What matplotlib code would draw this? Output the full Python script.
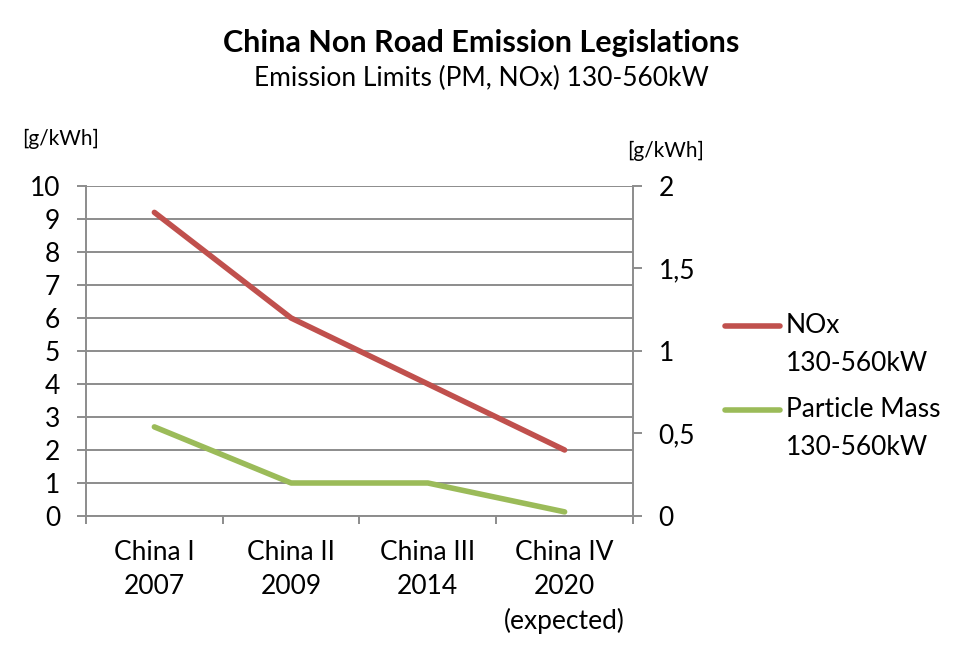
import numpy as np
import matplotlib.pyplot as plt
from matplotlib.lines import Line2D
from matplotlib.ticker import FuncFormatter, MultipleLocator

plt.rcParams['font.family'] = ['Lato', 'DejaVu Sans']

stufen = ['China I\n2007', 'China II\n2009', 'China III\n2014', 'China IV\n2020\n(expected)']
nox = [9.2, 6.0, 4.0, 2.0]          # linke Achse
pm = [0.54, 0.2, 0.2, 0.025]        # rechte Achse

rot = '#C0504D'
gruen = '#9BBB59'
grau = '#8c8c8c'

fig = plt.figure(figsize=(9.63, 6.69), dpi=100)
ax = fig.add_axes([0.0893, 0.2287, 0.568, 0.4933])
ax2 = ax.twinx()

x = np.arange(len(stufen))
ax.plot(x, nox, color=rot, lw=4, solid_capstyle='round')
ax2.plot(x, pm, color=gruen, lw=4, solid_capstyle='round')

ax.set_xlim(-0.5, 3.5)
ax.set_ylim(0, 10)
ax2.set_ylim(0, 2)
ax.yaxis.set_major_locator(MultipleLocator(1))
ax2.yaxis.set_major_locator(MultipleLocator(0.5))
ax2.yaxis.set_major_formatter(FuncFormatter(lambda v, p: f'{v:g}'.replace('.', ',')))

ax.grid(axis='y', color=grau, lw=1.4)
ax.set_axisbelow(True)

# Kategorie-Ticks an den Grenzen, Labels in der Mitte
ax.set_xticks(np.arange(-0.5, 4.0, 1.0))
ax.set_xticklabels([])
ax.set_xticks(x, minor=True)
ax.set_xticklabels(stufen, minor=True, fontsize=19, linespacing=1.45)
ax.tick_params(axis='x', which='minor', length=0, pad=17)
ax.tick_params(axis='x', which='major', length=6, width=1.4, color=grau, direction='out')
ax.tick_params(axis='y', length=6.5, width=1.4, color=grau, labelsize=19, pad=12)
ax2.tick_params(axis='y', length=6.5, width=1.4, color=grau, labelsize=19, pad=12)

for a in (ax, ax2):
    for s in a.spines.values():
        s.set_visible(False)
ax.spines['left'].set_visible(True)
ax.spines['bottom'].set_visible(True)
ax2.spines['right'].set_visible(True)
for s in (ax.spines['left'], ax.spines['bottom'], ax2.spines['right']):
    s.set_color(grau)
    s.set_linewidth(1.4)

fig.text(0.5, 0.935, 'China Non Road Emission Legislations', ha='center', va='center',
         fontsize=22, fontweight='bold')
fig.text(0.5, 0.882, 'Emission Limits (PM, NOx) 130-560kW', ha='center', va='center', fontsize=19)
fig.text(0.023, 0.793, '[g/kWh]', ha='left', va='center', fontsize=15)
fig.text(0.651, 0.775, '[g/kWh]', ha='left', va='center', fontsize=15)

# Legende wie in Excel: Linie auf Hoehe der ersten Textzeile
eintraege = [('NOx\n130-560kW', rot, 0.513), ('Particle Mass\n130-560kW', gruen, 0.387)]
for text, farbe, y in eintraege:
    fig.add_artist(Line2D([0.753, 0.810], [y, y], transform=fig.transFigure, color=farbe,
                          lw=4, solid_capstyle='round'))
    fig.text(0.816, y + 0.019, text, ha='left', va='top', fontsize=19, linespacing=1.65)

fig.savefig('out.png', dpi=100)
